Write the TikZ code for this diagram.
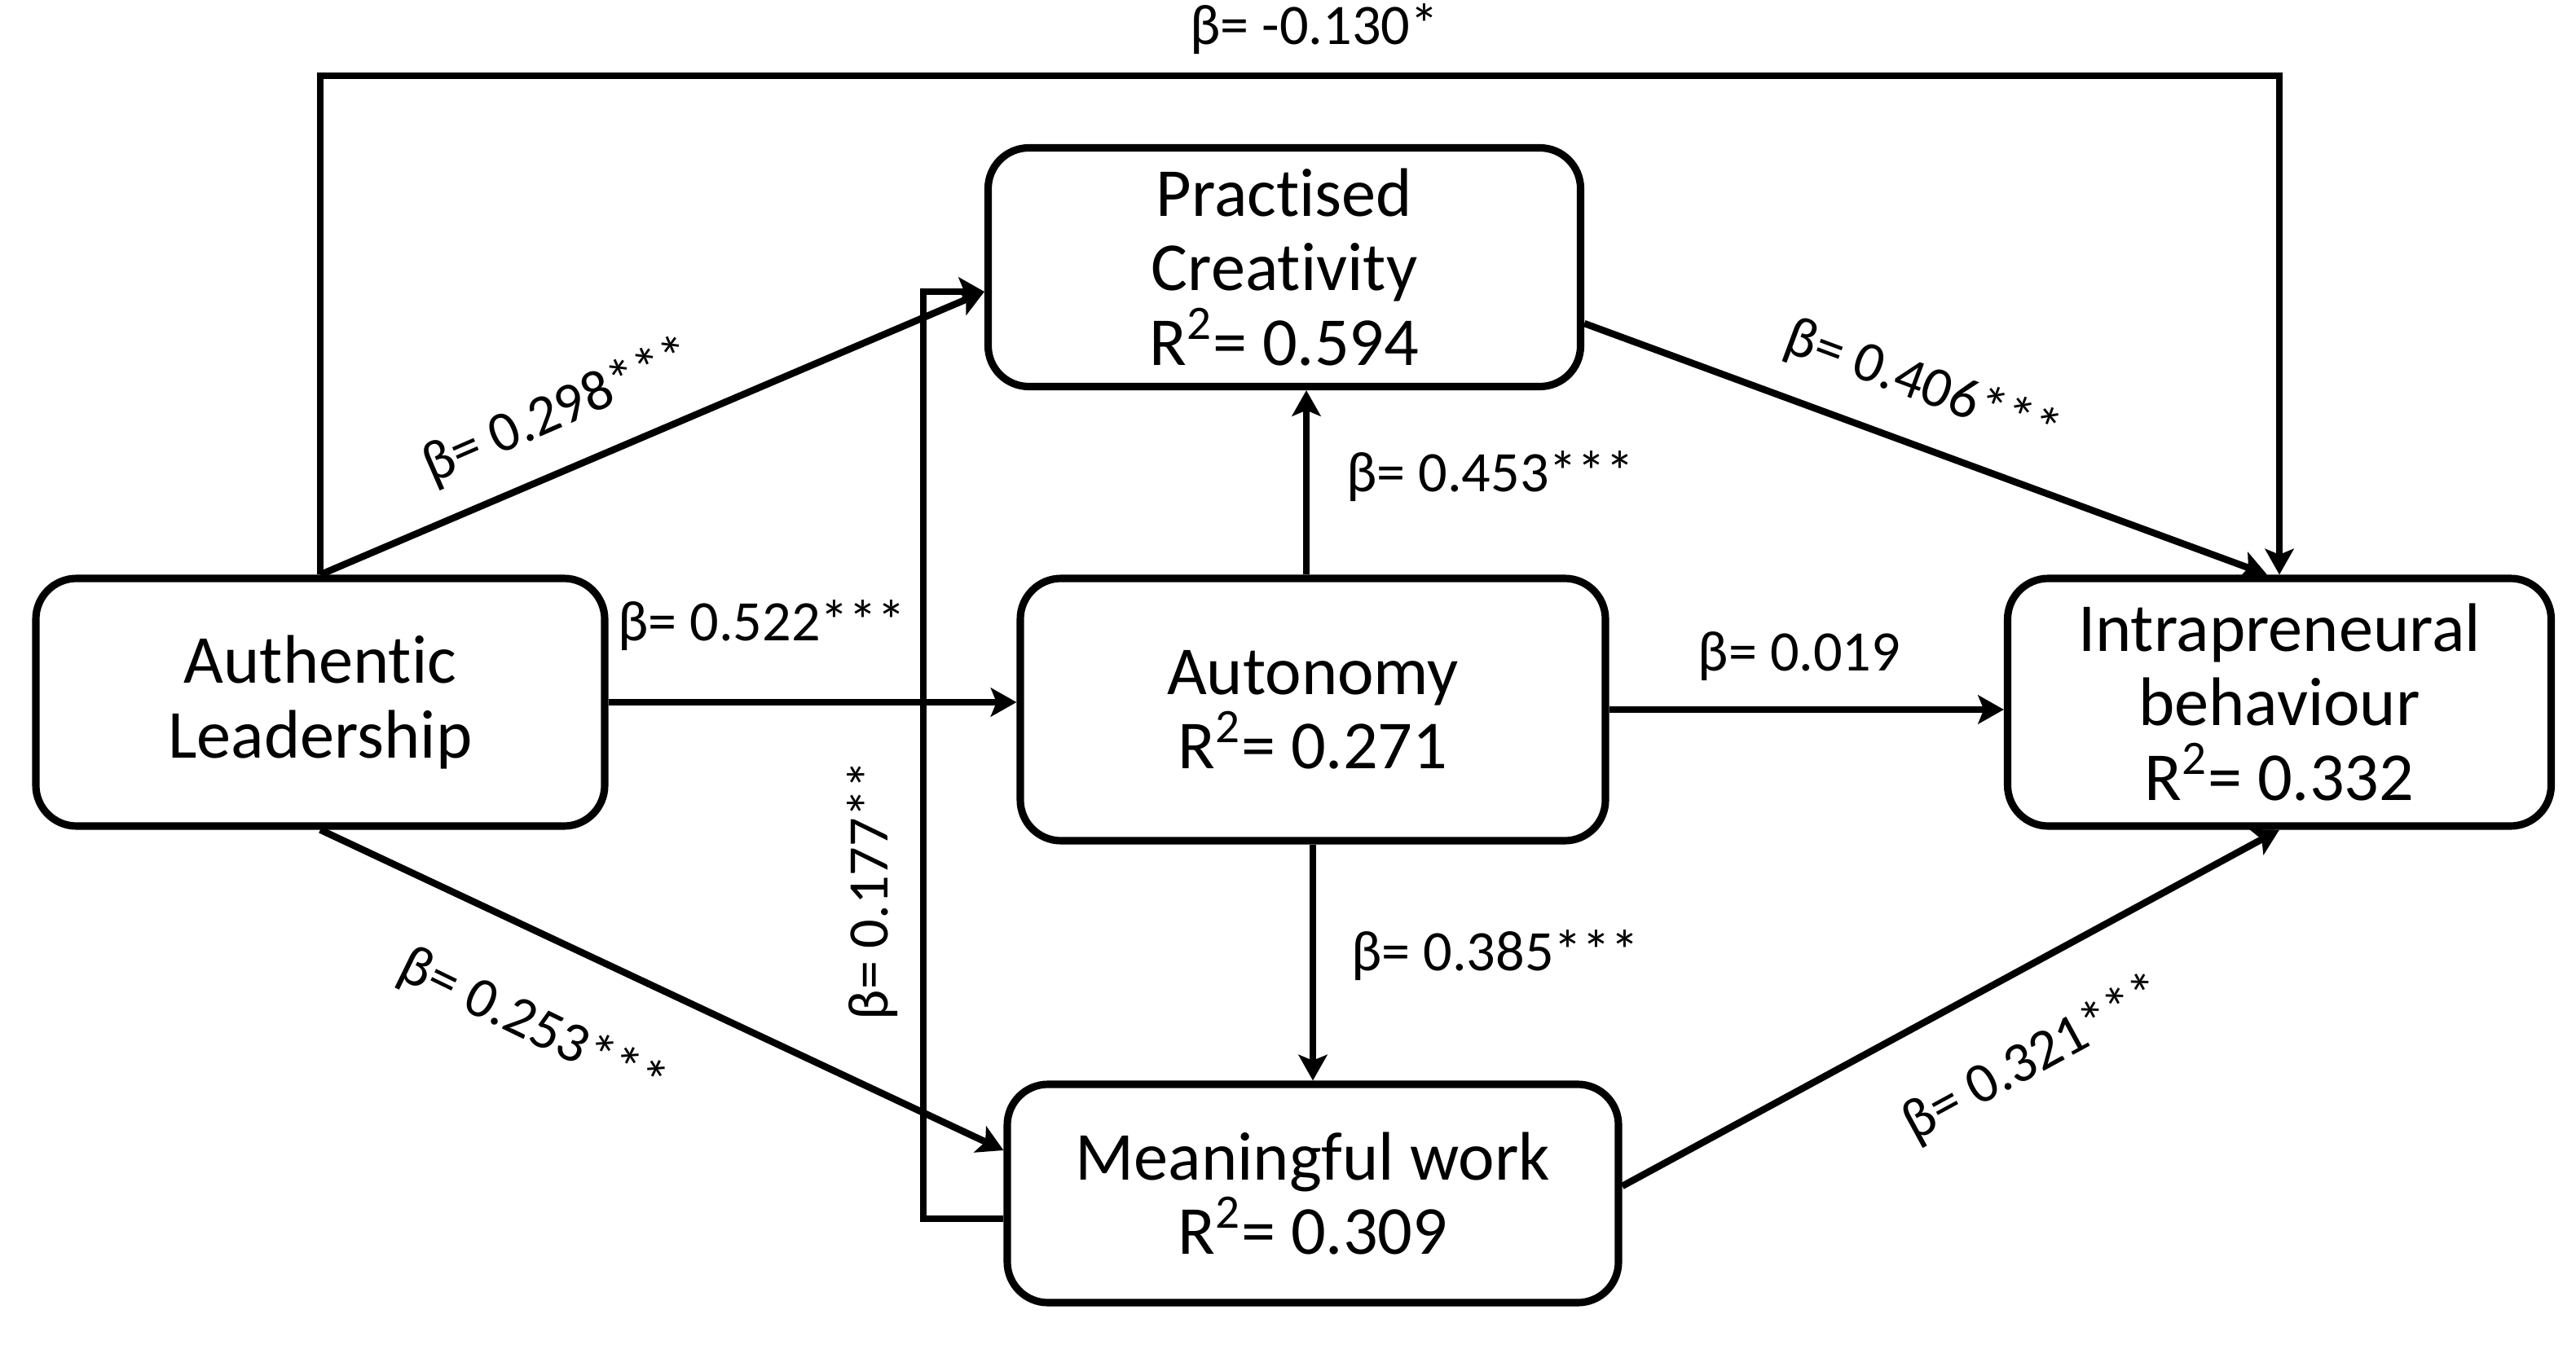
\documentclass[tikz,border=0pt]{standalone}
\usepackage{fontspec}
\setmainfont{Carlito}[Ligatures={NoCommon,NoContextual}]
\usetikzlibrary{arrows.meta,positioning}

\tikzset{
  box/.style={draw, line width=2.6pt, rounded corners=0.5cm, align=center,
    inner sep=0pt, font=\fontsize{24}{26}\selectfont},
  link/.style={line width=2.4pt, -{Stealth[length=9pt,width=10pt,inset=2pt]}},
  coef/.style={inner sep=0pt, font=\fontsize{20}{22}\selectfont}
}

\begin{document}
\begin{tikzpicture}
    \useasboundingbox (0,0) rectangle (31.61,16.5);

    % Constructs
    \node[box, minimum width=6.98cm, minimum height=3.04cm] (lead) at (3.93,7.88) {Authentic\\Leadership};
    \node[box, minimum width=7.27cm, minimum height=2.93cm] (crea) at (15.76,13.22) {Practised\\Creativity\\R\textsuperscript{2}= 0.594};
    \node[box, minimum width=7.18cm, minimum height=3.22cm] (auto) at (16.11,7.79) {Autonomy\\R\textsuperscript{2}= 0.271};
    \node[box, minimum width=7.50cm, minimum height=2.68cm] (mean) at (16.11,1.85) {Meaningful work\\R\textsuperscript{2}= 0.309};
    \node[box, minimum width=6.67cm, minimum height=3.04cm] (intra) at (27.97,7.88) {Intrapreneural\\behaviour\\R\textsuperscript{2}= 0.332};

    % Helper points
    \coordinate (top) at (16,15.57);
    \coordinate (loop) at (11.33,8);

    % Paths
    \draw[link] (lead.north) -- (lead.north |- top) -- (intra.north |- top) -- (intra.north);
    \draw[link] (lead.north) -- ([yshift=-0.3cm]crea.west);
    \draw[link] (lead.east) -- (lead.east -| auto.west);
    \draw[link] (lead.south) -- ([yshift=0.53cm]mean.west);
    \draw[link] ([yshift=-0.31cm]mean.west) -- ([yshift=-0.31cm]mean.west -| loop) |- ([yshift=-0.3cm]crea.west);
    \draw[link] ([xshift=-0.08cm]auto.north) -- ([xshift=-0.08cm]auto.north |- crea.south);
    \draw[link] (auto.south) -- (mean.north);
    \draw[link] (auto.east) -- (auto.east -| intra.west);
    \draw[link] ([yshift=-0.69cm]crea.east) -- ([xshift=-0.15cm]intra.north);
    \draw[link] ([yshift=0.09cm]mean.east) -- (intra.south);

    % Coefficients
    \node[coef] (b130) at (16.13,16.14) {β= -0.130*};
    \node[coef, rotate=23.5] (b298) at (6.85,11.44) {β= 0.298***};
    \node[coef] (b522) at (9.35,8.82) {β= 0.522***};
    \node[coef, rotate=-26] (b253) at (6.53,3.90) {β= 0.253***};
    \node[coef, rotate=90] (b177) at (10.71,5.57) {β= 0.177**};
    \node[coef] (b453) at (18.29,10.65) {β= 0.453***};
    \node[coef] (b385) at (18.35,4.77) {β= 0.385***};
    \node[coef] (b019) at (22.08,8.44) {β= 0.019};
    \node[coef, rotate=-20.4] (b406) at (23.59,11.76) {β= 0.406***};
    \node[coef, rotate=28.6] (b321) at (24.96,3.50) {β= 0.321***};

\end{tikzpicture}
\end{document}
